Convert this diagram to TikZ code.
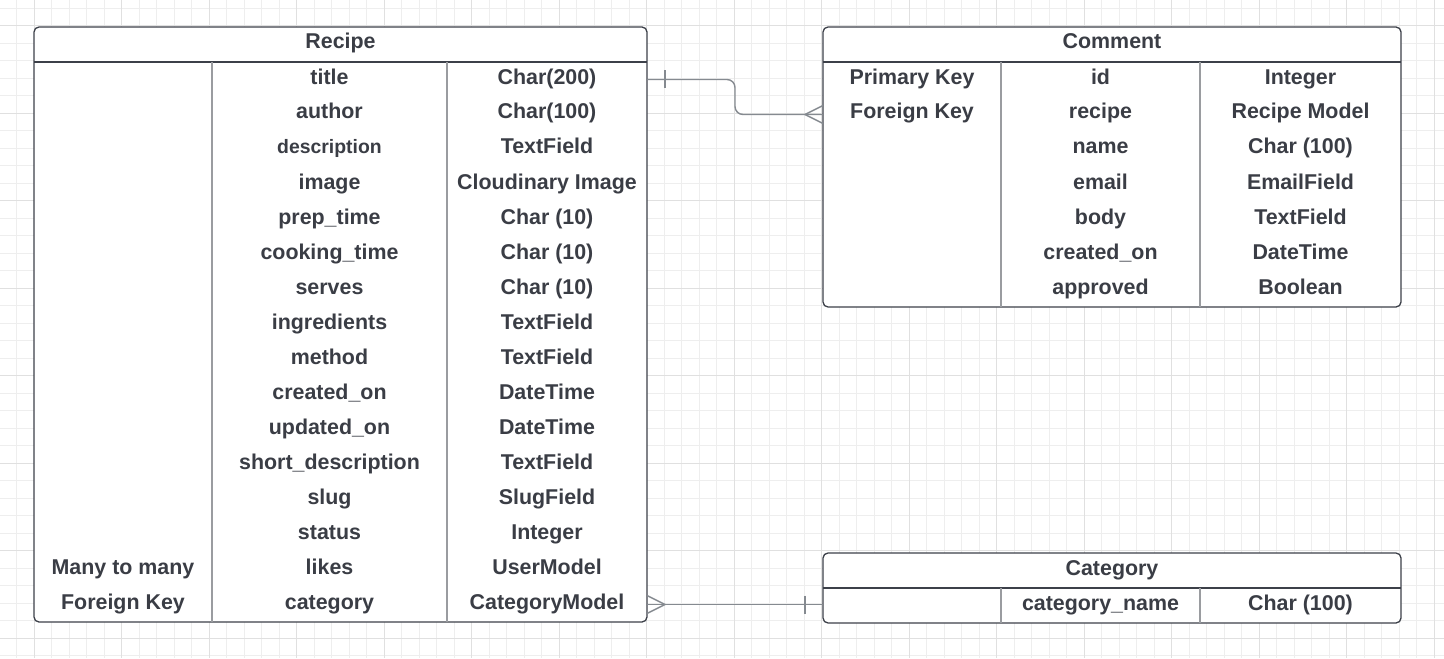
\documentclass[tikz,border=0pt]{standalone}
\usepackage{fontspec}
\setmainfont{Liberation Sans}
\usetikzlibrary{positioning,calc,backgrounds}

\definecolor{txt}{HTML}{3A3D45}
\definecolor{edge}{HTML}{3C4049}
\definecolor{colgray}{HTML}{9A9CA0}
\definecolor{linkgray}{HTML}{858A90}
\definecolor{gridminor}{HTML}{EEEEEE}
\definecolor{gridmajor}{HTML}{E0E0E0}

\begin{document}
\begin{tikzpicture}[
  x=0.5pt, y=-0.5pt,
  font=\fontsize{10.7}{12}\selectfont\bfseries,
  cell/.style={inner sep=0pt, outer sep=0pt, text=txt, minimum height=17.5pt, text height=7.5pt, text depth=3pt},
  frame/.style={draw=edge, line width=0.65pt, rounded corners=2.5pt},
  headsep/.style={draw=edge, line width=0.65pt},
  colsep/.style={draw=colgray, line width=0.6pt},
  link/.style={draw=linkgray, line width=0.7pt},
  minorgrid/.style={draw=gridminor, line width=0.5pt},
  majorgrid/.style={draw=gridmajor, line width=0.5pt}
]
\useasboundingbox (0,0) rectangle (1444,658);

% Recipe
\node[cell, minimum width=306.5pt, anchor=north west] (recipe) at (34,27) {Recipe};
\foreach \k/\n/\t [count=\i] in {/title/Char(200), /author/Char(100),
    /{\fontsize{9.7}{11}\selectfont description}/TextField, /image/Cloudinary Image,
    /prep\_time/Char (10), /cooking\_time/Char (10), /serves/Char (10),
    /ingredients/TextField, /method/TextField, /created\_on/DateTime,
    /updated\_on/DateTime, /short\_description/TextField, /slug/SlugField,
    /status/Integer, Many to many/likes/UserModel, Foreign Key/category/CategoryModel} {
  \node[cell, minimum width=89pt, anchor=north west] (rk\i) at (34,{62+35*(\i-1)}) {\k};
  \node[cell, minimum width=117.5pt, right=0pt of rk\i] (rn\i) {\n};
  \node[cell, minimum width=100pt, right=0pt of rn\i] (rt\i) {\t};
}
\draw[frame] (recipe.north west) rectangle (rt16.south east);
\draw[headsep] (recipe.south west) -- (recipe.south east);
\draw[colsep] (rk1.north east) -- (rk16.south east);
\draw[colsep] (rn1.north east) -- (rn16.south east);

% Comment
\node[cell, minimum width=289pt, anchor=north west] (comment) at (823,27) {Comment};
\foreach \k/\n/\t [count=\i] in {Primary Key/id/Integer, Foreign Key/recipe/Recipe Model,
    /name/Char (100), /email/EmailField, /body/TextField,
    /created\_on/DateTime, /approved/Boolean} {
  \node[cell, minimum width=89pt, anchor=north west] (ck\i) at (823,{62+35*(\i-1)}) {\k};
  \node[cell, minimum width=99.5pt, right=0pt of ck\i] (cn\i) {\n};
  \node[cell, minimum width=100.5pt, right=0pt of cn\i] (ct\i) {\t};
}
\draw[frame] (comment.north west) rectangle (ct7.south east);
\draw[headsep] (comment.south west) -- (comment.south east);
\draw[colsep] (ck1.north east) -- (ck7.south east);
\draw[colsep] (cn1.north east) -- (cn7.south east);

% Category
\node[cell, minimum width=289pt, anchor=north west] (category) at (823,553) {Category};
\node[cell, minimum width=89pt, anchor=north west] (gk1) at (823,588) {};
\node[cell, minimum width=99.5pt, right=0pt of gk1] (gn1) {category\_name};
\node[cell, minimum width=100.5pt, right=0pt of gn1] (gt1) {Char (100)};
\draw[frame] (category.north west) rectangle (gt1.south east);
\draw[headsep] (category.south west) -- (category.south east);
\draw[colsep] (gk1.north east) -- (gk1.south east);
\draw[colsep] (gn1.north east) -- (gn1.south east);

% relations
\coordinate (bend) at ($(rt1.east)!0.5!(ck2.west)$);
\draw[link, rounded corners=4pt] (rt1.east) -| (bend) |- (ck2.west);
\draw[link] ($(rt1.east)+(18,-9)$) -- ++(0,18);
\draw[link] ($(ck2.west)+(0,-9)$) -- ($(ck2.west)+(-18,0)$) -- ($(ck2.west)+(0,9)$);

\draw[link] (rt16.east) -- (rt16.east -| gk1.west);
\draw[link] ($(rt16.east)+(0,-9)$) -- ($(rt16.east)+(18,0)$) -- ($(rt16.east)+(0,9)$);
\draw[link] ($(rt16.east -| gk1.west)+(-18,-9)$) -- ++(0,18);

\begin{scope}[on background layer]
  \foreach \i in {0,...,81} \draw[minorgrid] ({16.7+17.5*\i},0) -- ++(0,658);
  \foreach \j in {0,...,37} \draw[minorgrid] (0,{8.3+17.5*\j}) -- ++(1444,0);
  \foreach \i in {0,...,16} \draw[majorgrid] ({34.2+87.5*\i},0) -- ++(0,658);
  \foreach \j in {0,...,7} \draw[majorgrid] (0,{25.8+87.5*\j}) -- ++(1444,0);
  \fill[white, rounded corners=2.5pt] (recipe.north west) rectangle (rt16.south east);
  \fill[white, rounded corners=2.5pt] (comment.north west) rectangle (ct7.south east);
  \fill[white, rounded corners=2.5pt] (category.north west) rectangle (gt1.south east);
\end{scope}
\end{tikzpicture}
\end{document}
